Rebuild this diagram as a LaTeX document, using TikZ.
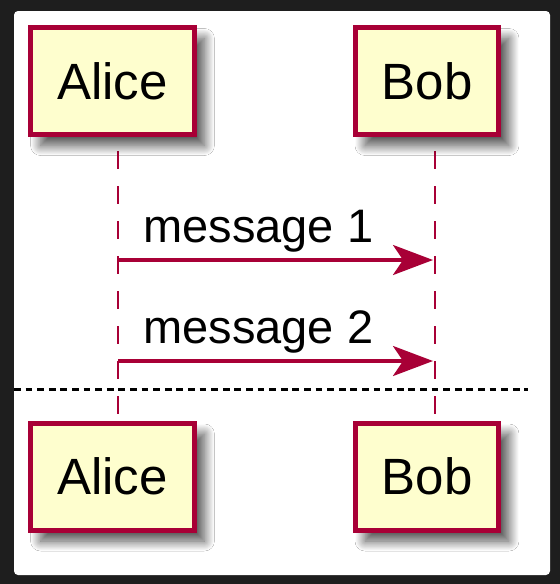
\documentclass[tikz,border=0pt]{standalone}
\usepackage{fontspec}
\setmainfont{Liberation Sans}
\usetikzlibrary{shadows.blur,arrows.meta}

\definecolor{plumred}{HTML}{A80036}
\definecolor{plumfill}{HTML}{FEFECE}
\definecolor{frame}{HTML}{1E1E1E}

\begin{document}
\begin{tikzpicture}[x=0.5pt,y=-0.5pt]

\def\alicex{112.5}
\def\bobx{427}
\def\topy{81}
\def\boty{476.5}

\tikzstyle{actor}=[rectangle,draw=plumred,fill=plumfill,line width=2.5pt,inner xsep=13.3pt,minimum height=53.5pt,font=\fontsize{25.5}{30}\selectfont,blur shadow={shadow xshift=5pt,shadow yshift=-5.5pt,shadow blur radius=5pt,shadow blur steps=24,shadow opacity=70,shadow blur extra rounding=0pt}]
\tikzstyle{lifeline}=[draw=plumred,line width=1.35pt,dash pattern=on 8.75pt off 8.75pt,dash phase=10.5pt]
\tikzstyle{msg}=[draw=plumred,line width=1.6pt,-{Stealth[length=20pt,width=15pt,inset=5pt]}]
\tikzstyle{msglabel}=[anchor=base west,inner sep=0pt,font=\fontsize{23.5}{28}\selectfont]

%background
\useasboundingbox (0,0) rectangle (560,584);
\fill[frame] (0,0) rectangle (560,584);
\fill[white,rounded corners=2pt] (14,11) rectangle (550,575);

%lifelines
\coordinate (alicetop) at (118,137);
\coordinate (alicebot) at (118,421);
\coordinate (bobtop) at (435,137);
\coordinate (bobbot) at (435,421);
\draw[lifeline] (alicetop) -- (alicebot);
\draw[lifeline] (bobtop) -- (bobbot);

%participants
\node[actor] (alice1) at (\alicex,\topy) {Alice};
\node[actor] (bob1) at (\bobx,\topy) {Bob};
\node[actor] (alice2) at (\alicex,\boty) {Alice};
\node[actor] (bob2) at (\bobx,\boty) {Bob};

%messages
\coordinate (m1a) at (118,260);
\coordinate (m1b) at (433,260);
\coordinate (m2a) at (118,361);
\coordinate (m2b) at (433,361);
\draw[msg] (m1a) -- (m1b);
\draw[msg] (m2a) -- (m2b);
\node[msglabel] (lab1) at (143,242) {message 1};
\node[msglabel] (lab2) at (143,343) {message 2};

%separator
\coordinate (sepa) at (14,389);
\coordinate (sepb) at (528,389);
\draw[black,line width=1.5pt,dash pattern=on 3.4pt off 2.4pt] (sepa) -- (sepb);

\end{tikzpicture}
\end{document}
